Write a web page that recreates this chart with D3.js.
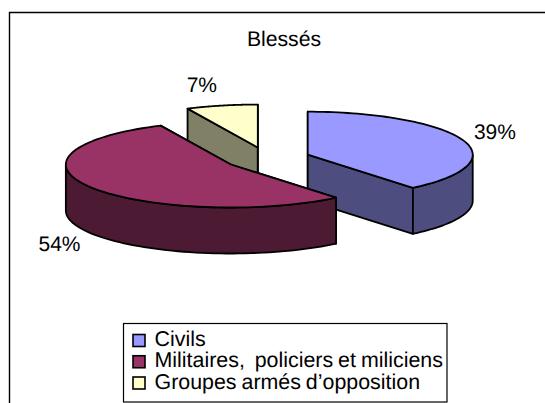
<!DOCTYPE html>
<html><head><meta charset="utf-8">
<script src="https://cdn.jsdelivr.net/npm/d3@7"></script>
<style>
html,body{margin:0;padding:0;background:#fff}
svg{display:block}
text{font-family:"Liberation Sans",Arial,sans-serif;fill:#000;text-rendering:geometricPrecision}
</style></head><body>
<svg id="c" width="545" height="403"></svg>
<script>
const title = "Blessés";
const categories = ["Civils", "Militaires,  policiers et miliciens", "Groupes armés d’opposition"];
const values = [39, 54, 7];
const labels = ["39%", "54%", "7%"];
const colors = ["#9999ff", "#993366", "#ffffcc"];

const W = 545, H = 403;
const cx = 267.2, cy = 158.5, rx = 165, ry = 43, depth = 46, explode = 0.261;
const labelOffset = [[32, -8], [-32, 56], [-20, -21]];
const paintOrder = [2, 0, 1];

const svg = d3.select("#c");
svg.append("path").attr("d", `M9.5,${H}V12.5H${W}`).attr("fill", "none").attr("stroke", "#000").attr("stroke-width", 1.4);

svg.append("text").attr("x", 284).attr("y", 45.5).attr("text-anchor", "middle").attr("font-size", 21.2).text(title);

const pie = d3.pie().sort(null).value(d => d)(values);
const line = d3.line();
const darken = c => { const r = d3.rgb(c); return d3.rgb(r.r / 2, r.g / 2, r.b / 2).formatHex(); };

const slices = pie.map((p, i) => {
  const mid = (p.startAngle + p.endAngle) / 2;
  const ox = cx + explode * rx * Math.sin(mid), oy = cy - explode * ry * Math.cos(mid);
  const pt = (a, dz = 0) => [ox + rx * Math.sin(a), oy - ry * Math.cos(a) + dz];
  return { p, i, mid, ox, oy, pt };
});

const stroke = g => g.attr("stroke", "#000").attr("stroke-width", 1.8).attr("stroke-linejoin", "round");

paintOrder.forEach(i => {
  const s = slices[i], { p, ox, oy, pt } = s;
  const g = svg.append("g").call(stroke);
  const dark = darken(colors[i]);
  // cut faces
  [p.startAngle, p.endAngle].forEach(a => {
    const e = pt(a), ed = pt(a, depth);
    g.append("path").attr("fill", dark)
      .attr("d", line([[ox, oy], e, ed, [ox, oy + depth]]) + "Z");
  });
  // outer wall, front half only
  const a0 = Math.max(p.startAngle, Math.PI / 2), a1 = Math.min(p.endAngle, Math.PI * 1.5);
  if (a1 > a0) {
    const arc = d3.range(0, 61).map(k => a0 + (a1 - a0) * k / 60);
    const wall = arc.map(a => pt(a)).concat(arc.slice().reverse().map(a => pt(a, depth)));
    g.append("path").attr("fill", dark).attr("d", line(wall) + "Z");
  }
  // top face
  const arcTop = d3.range(0, 81).map(k => p.startAngle + (p.endAngle - p.startAngle) * k / 80);
  g.append("path").attr("fill", colors[i])
    .attr("d", line([[ox, oy]].concat(arcTop.map(a => pt(a)))) + "Z");
});

slices.forEach(s => {
  const m = s.pt(s.mid);
  svg.append("text").attr("x", m[0] + labelOffset[s.i][0]).attr("y", m[1] + labelOffset[s.i][1] + 7)
    .attr("text-anchor", "middle").attr("font-size", 21).text(labels[s.i]);
});

// legend
const lx = 123.5, ly = 323.5, lw = 323.5, lh = 78.5;
svg.append("rect").attr("x", lx).attr("y", ly).attr("width", lw).attr("height", lh)
  .attr("fill", "#fff").attr("stroke", "#000").attr("stroke-width", 1.2);
const rowY = d3.scalePoint().domain(categories).range([340.5, 383]);
const leg = svg.selectAll("g.l").data(categories).join("g").attr("class", "l");
leg.append("rect").attr("x", 133).attr("y", d => rowY(d) - 6).attr("width", 12).attr("height", 12)
  .attr("fill", (d, i) => colors[i]).attr("stroke", "#000").attr("stroke-width", 1.6);
leg.append("text").attr("x", 154.5).attr("y", d => rowY(d) + 5.5).attr("font-size", 21.4)
  .style("white-space", "pre").style("word-spacing", "-1px").text(d => d);
</script>
</body></html>
